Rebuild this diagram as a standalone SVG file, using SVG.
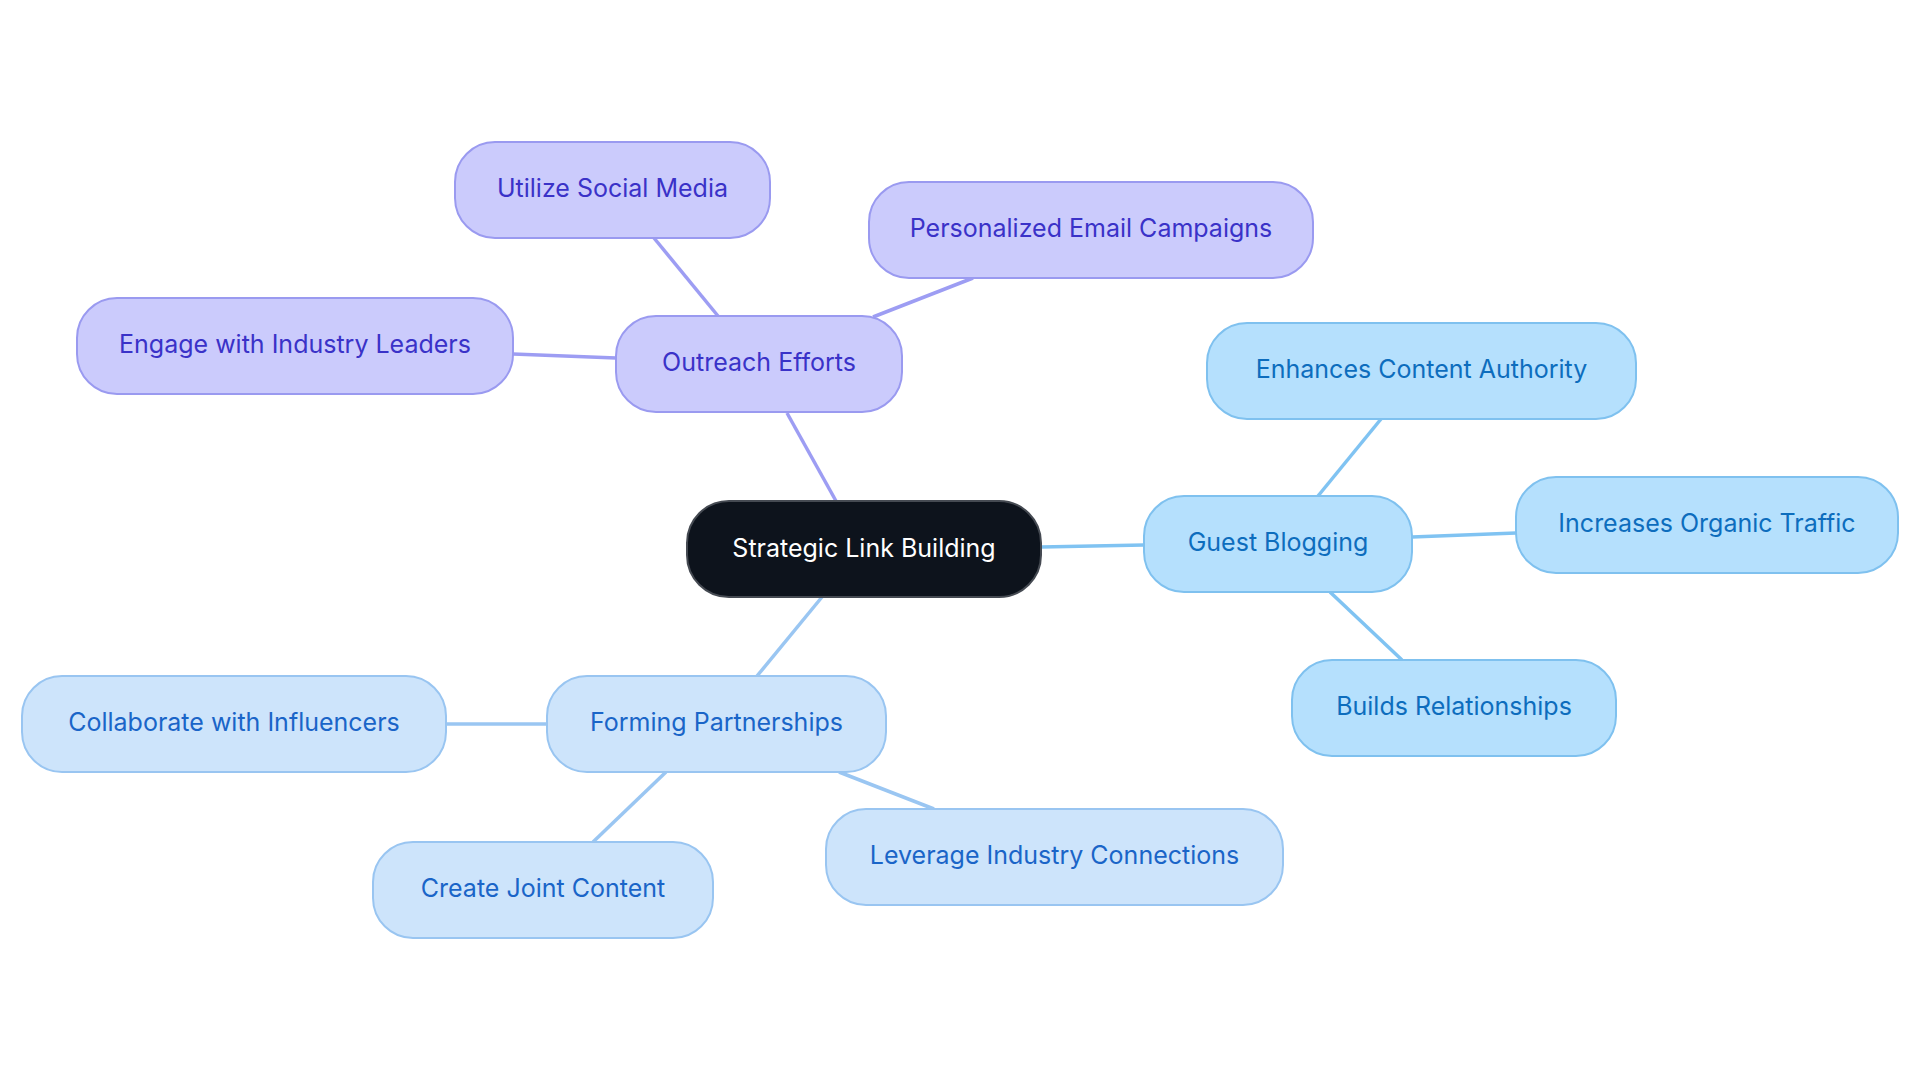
<svg xmlns="http://www.w3.org/2000/svg" width="1920" height="1083" viewBox="0 0 1920 1083">
<style>
text{font-family:Inter,"Noto Sans","Liberation Sans",sans-serif;font-size:25px;text-anchor:middle}
.p rect{fill:#cbcbfc;stroke:#9a9af0;stroke-width:2}
.p text{fill:#3a32c8}
.b rect{fill:#b5e0fd;stroke:#7fc1ef;stroke-width:2}
.b text{fill:#0d6dbd}
.l rect{fill:#cde4fb;stroke:#99c5f1;stroke-width:2}
.l text{fill:#1a65c8}
.c rect{fill:#0d131c;stroke:#454a52;stroke-width:2}
.c text{fill:#ffffff}
#edges line{stroke-width:3.5;fill:none}
.ep{stroke:#9d9df3}
.eb{stroke:#80c3f2}
.el{stroke:#9ac6f2}
</style>
<rect width="1920" height="1083" fill="#ffffff"/>
<g id="edges">
<line class="ep" x1="787" y1="413" x2="836" y2="501"/>
<line class="ep" x1="654" y1="238" x2="718" y2="316"/>
<line class="ep" x1="973" y1="278" x2="873" y2="317"/>
<line class="ep" x1="513" y1="354" x2="616" y2="358"/>
<line class="eb" x1="1041" y1="547" x2="1144" y2="545"/>
<line class="eb" x1="1318" y1="496" x2="1381" y2="419"/>
<line class="eb" x1="1412" y1="537" x2="1516" y2="533"/>
<line class="eb" x1="1330" y1="592" x2="1402" y2="660"/>
<line class="el" x1="822" y1="597" x2="757" y2="676"/>
<line class="el" x1="547" y1="724" x2="446" y2="724"/>
<line class="el" x1="666" y1="772" x2="593" y2="842"/>
<line class="el" x1="839" y1="772" x2="934" y2="809"/>
</g>
<g id="center" class="c"><rect x="687" y="501" width="354" height="96" rx="42"/><text x="864" y="557">Strategic Link Building</text></g>
<g id="outreach" class="p"><rect x="616" y="316" width="286" height="96" rx="40"/><text x="759" y="371">Outreach Efforts</text></g>
<g id="utilize" class="p"><rect x="455" y="142" width="315" height="96" rx="40"/><text x="612.5" y="197">Utilize Social Media</text></g>
<g id="personalized" class="p"><rect x="869" y="182" width="444" height="96" rx="40"/><text x="1091" y="237">Personalized Email Campaigns</text></g>
<g id="engage" class="p"><rect x="77" y="298" width="436" height="96" rx="40"/><text x="295" y="353">Engage with Industry Leaders</text></g>
<g id="guest" class="b"><rect x="1144" y="496" width="268" height="96" rx="40"/><text x="1278" y="551">Guest Blogging</text></g>
<g id="enhances" class="b"><rect x="1207" y="323" width="429" height="96" rx="40"/><text x="1421.5" y="378">Enhances Content Authority</text></g>
<g id="increases" class="b"><rect x="1516" y="477" width="382" height="96" rx="40"/><text x="1707" y="532">Increases Organic Traffic</text></g>
<g id="builds" class="b"><rect x="1292" y="660" width="324" height="96" rx="40"/><text x="1454" y="715">Builds Relationships</text></g>
<g id="forming" class="l"><rect x="547" y="676" width="339" height="96" rx="40"/><text x="716.5" y="731">Forming Partnerships</text></g>
<g id="collaborate" class="l"><rect x="22" y="676" width="424" height="96" rx="40"/><text x="234" y="731">Collaborate with Influencers</text></g>
<g id="create" class="l"><rect x="373" y="842" width="340" height="96" rx="40"/><text x="543" y="897">Create Joint Content</text></g>
<g id="leverage" class="l"><rect x="826" y="809" width="457" height="96" rx="40"/><text x="1054.5" y="864">Leverage Industry Connections</text></g>
</svg>
